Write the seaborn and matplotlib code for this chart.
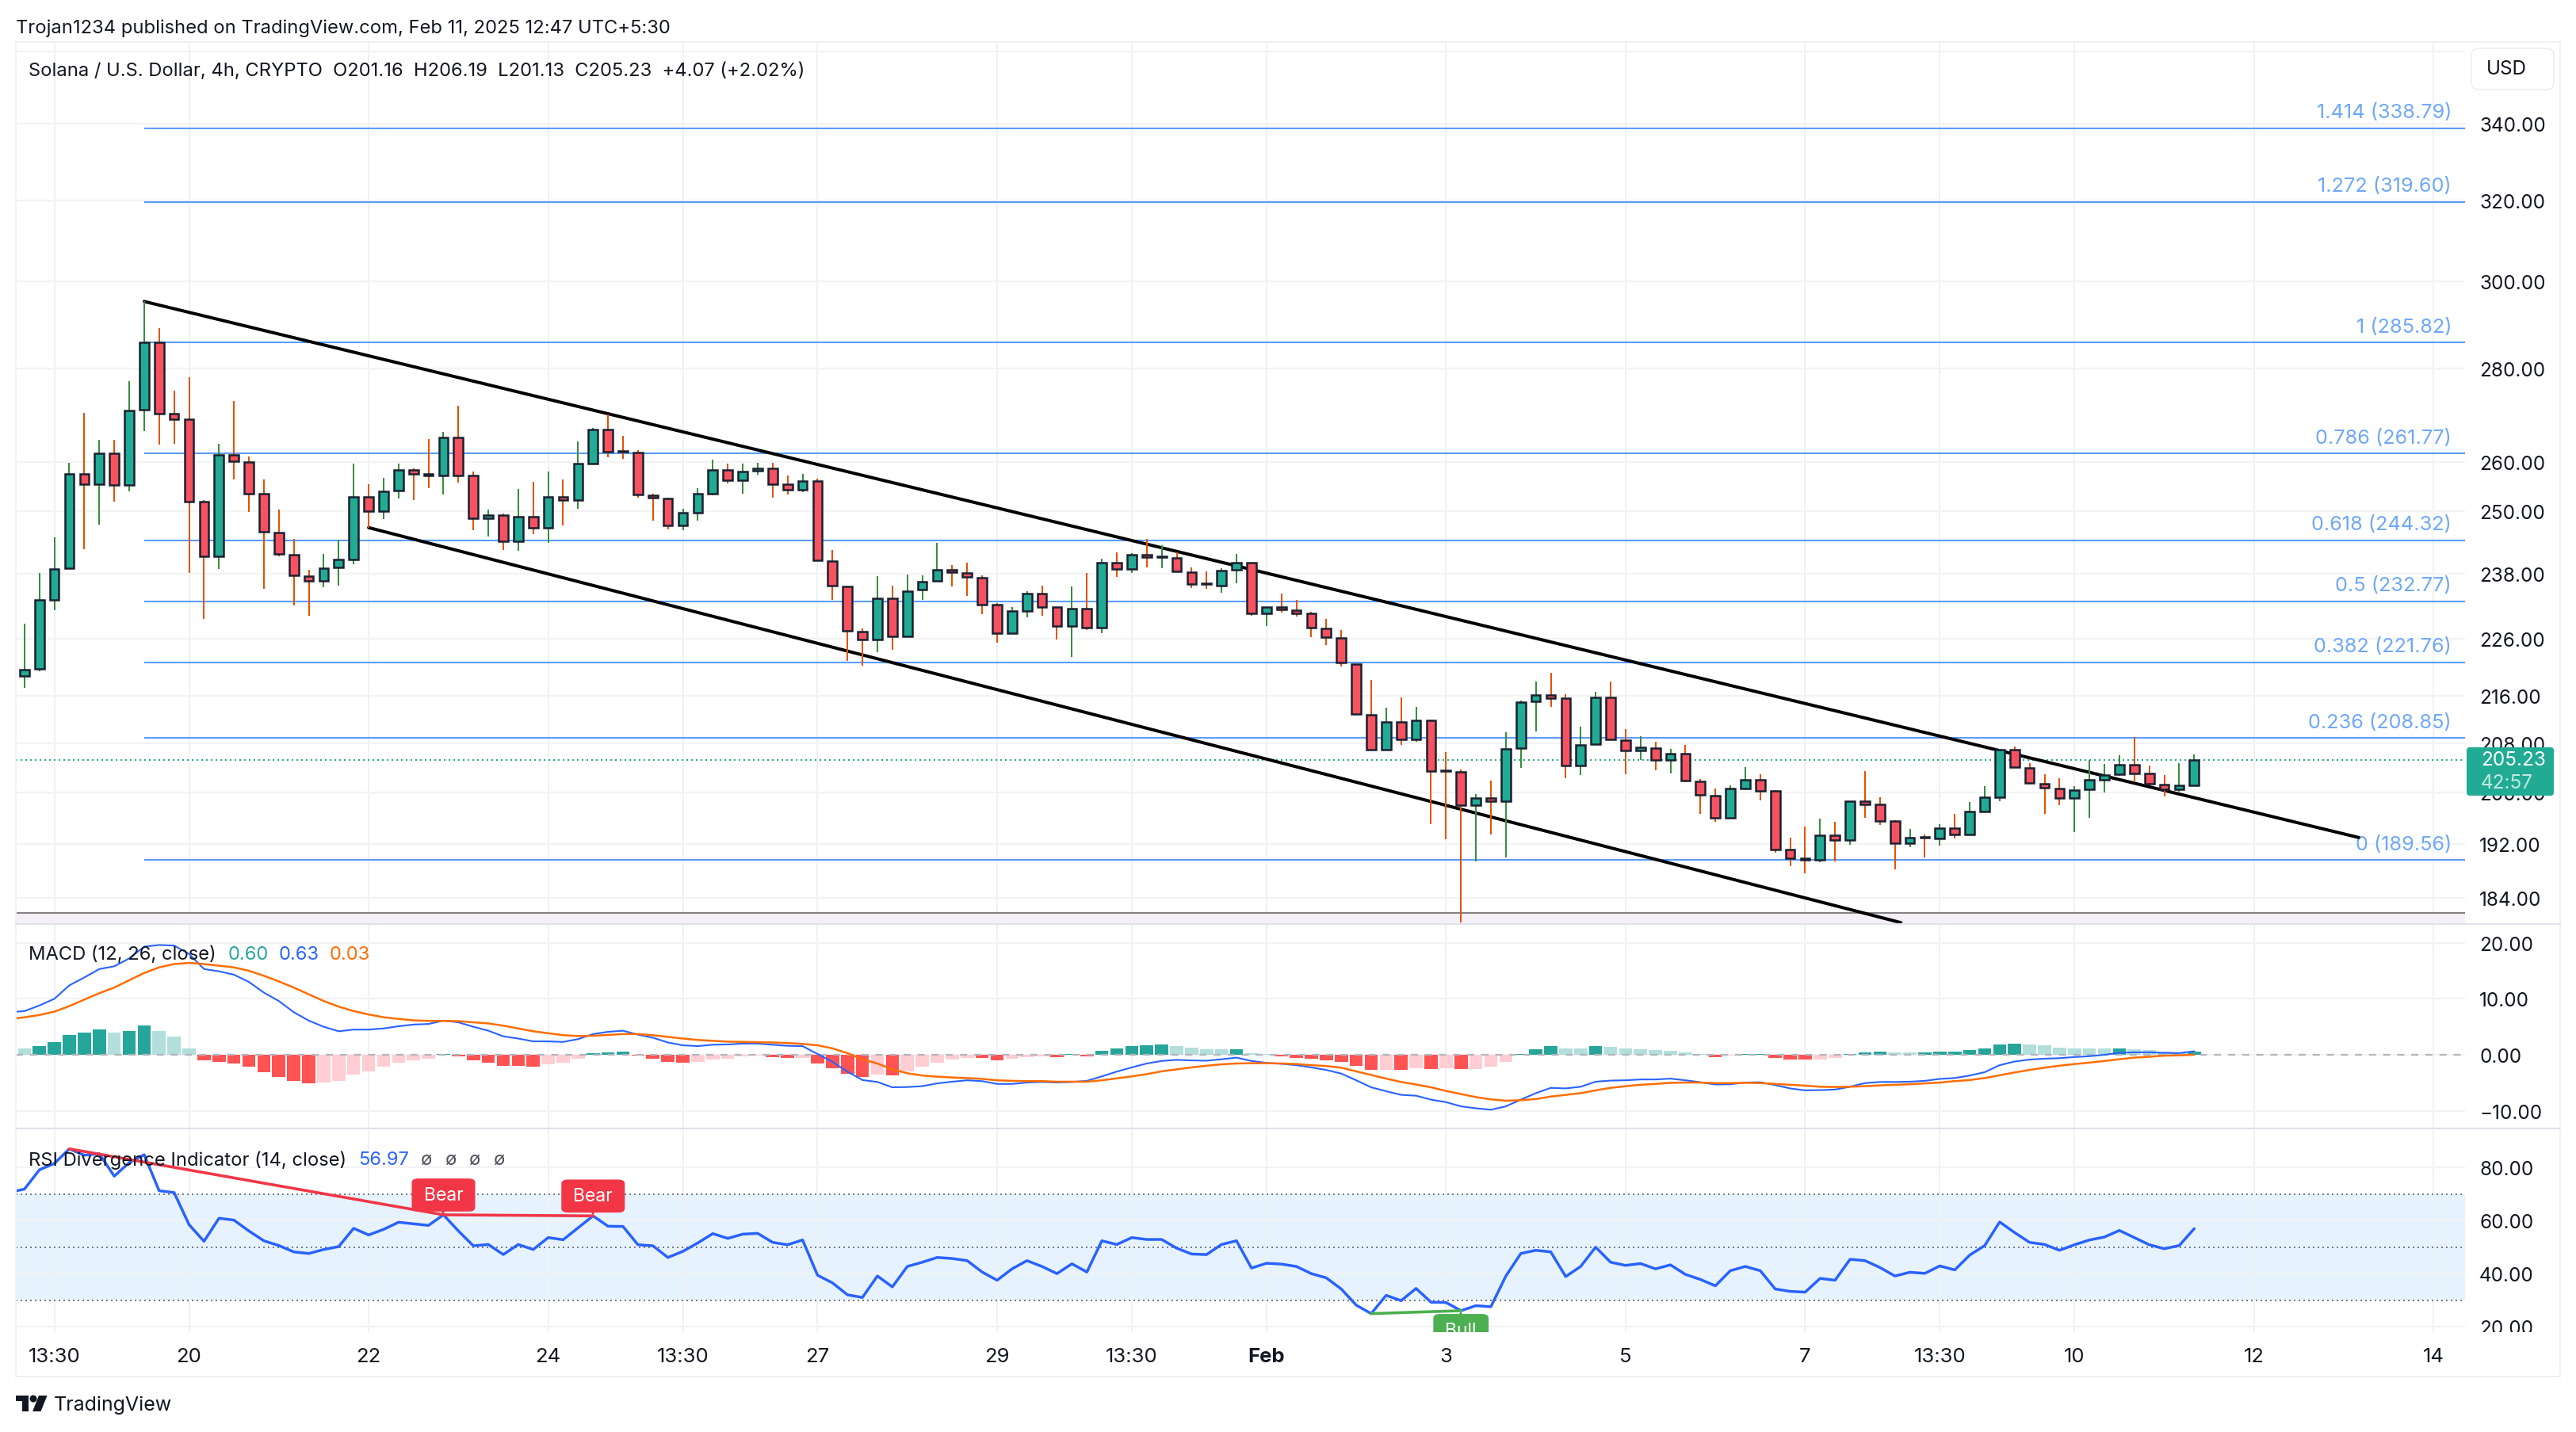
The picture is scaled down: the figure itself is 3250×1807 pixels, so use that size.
import numpy as np
import pandas as pd
import matplotlib.pyplot as plt
import seaborn as sns
from matplotlib.lines import Line2D
from matplotlib.patches import FancyBboxPatch, Rectangle, Circle, Polygon
from matplotlib.transforms import IdentityTransform

# bars are counted from the Jan 20 candle
bars = np.arange(-11, 135)

open_p = [
    219.4, 220.7, 233.1, 239.0, 257.6, 255.4, 261.8, 255.3, 271.0, 285.8,
    270.2, 268.9, 251.9, 241.3, 261.5, 260.0, 253.5, 245.9, 241.6, 237.5,
    236.6, 239.2, 240.6, 252.9, 250.0, 254.1, 258.3, 257.5, 257.3, 265.1,
    257.2, 248.7, 249.2, 244.2, 248.9, 246.7, 252.9, 252.2, 259.7, 266.7,
    262.3, 261.9, 253.2, 252.5, 247.2, 249.7, 253.6, 258.3, 256.3, 258.2,
    258.6, 255.4, 254.4, 256.1, 240.4, 235.6, 227.3, 225.8, 233.4, 226.4,
    234.9, 236.6, 238.7, 238.1, 237.2, 232.1, 227.0, 231.0, 234.2, 231.7,
    228.3, 231.4, 227.9, 240.1, 238.8, 241.6, 241.1, 241.0, 238.3, 236.1,
    235.7, 238.7, 240.1, 230.6, 231.7, 231.2, 230.5, 227.8, 226.1, 221.5,
    212.8, 206.9, 211.6, 208.6, 211.8, 203.6, 203.3, 198.0, 199.1, 198.6,
    207.2, 215.0, 216.1, 215.6, 204.4, 207.8, 215.7, 208.5, 206.8, 207.2,
    205.2, 206.3, 201.8, 199.5, 196.1, 200.7, 202.0, 200.3, 191.2, 189.9,
    189.6, 193.3, 192.6, 198.6, 198.1, 195.5, 192.1, 193.1, 192.9, 194.5,
    193.5, 197.0, 199.3, 206.9, 204.0, 201.4, 200.7, 199.1, 200.5, 202.0,
    202.9, 204.5, 203.1, 201.3, 200.5, 201.16,
]
high_p = [
    228.7, 238.1, 244.9, 259.9, 270.4, 264.6, 264.6, 277.2, 295.3, 289.1,
    275.2, 278.1, 252.2, 263.7, 272.8, 261.2, 256.4, 250.4, 244.6, 238.7,
    241.7, 244.4, 259.6, 255.5, 256.8, 259.6, 258.7, 264.7, 266.2, 271.9,
    258.1, 250.4, 249.6, 254.5, 256.0, 258.1, 256.4, 264.3, 267.1, 269.9,
    265.4, 262.4, 253.5, 252.7, 250.5, 254.6, 260.5, 259.6, 259.6, 259.8,
    259.8, 257.3, 257.5, 256.5, 242.5, 235.6, 227.8, 237.5, 235.7, 237.8,
    237.7, 243.8, 239.6, 240.0, 237.7, 232.5, 231.8, 234.7, 235.7, 231.8,
    235.6, 238.1, 240.8, 242.0, 241.8, 244.6, 243.4, 242.0, 239.2, 238.4,
    239.0, 241.7, 240.1, 231.8, 234.2, 233.0, 230.9, 229.5, 227.6, 221.5,
    218.7, 213.9, 215.7, 214.1, 211.9, 206.6, 203.7, 199.8, 201.9, 209.8,
    215.2, 218.4, 220.0, 216.2, 210.8, 216.7, 218.4, 210.4, 209.2, 208.2,
    207.0, 207.7, 202.2, 200.6, 201.2, 204.1, 202.9, 200.4, 193.0, 194.7,
    195.9, 195.4, 198.6, 203.4, 199.3, 195.7, 194.3, 193.5, 195.1, 196.6,
    198.5, 201.0, 207.0, 207.4, 204.7, 202.9, 202.3, 201.0, 205.3, 204.6,
    206.0, 209.0, 204.3, 202.8, 204.7, 206.19,
]
low_p = [
    217.3, 220.2, 231.2, 239.0, 242.6, 247.4, 252.0, 254.0, 266.4, 263.6,
    263.7, 238.1, 229.5, 238.9, 256.4, 249.9, 235.1, 241.3, 232.0, 230.2,
    235.4, 235.7, 239.7, 246.7, 248.5, 252.5, 252.2, 254.6, 253.4, 255.8,
    246.3, 245.0, 242.4, 242.3, 245.5, 243.8, 247.3, 250.5, 259.7, 260.9,
    260.6, 252.8, 248.2, 246.5, 246.3, 248.2, 253.2, 255.6, 253.5, 257.4,
    252.8, 253.4, 253.9, 240.5, 233.0, 222.0, 221.2, 223.6, 224.0, 226.4,
    233.1, 236.6, 235.6, 233.8, 230.4, 225.2, 226.8, 229.8, 230.2, 225.9,
    222.7, 227.6, 227.0, 237.3, 238.1, 239.2, 239.0, 238.4, 235.2, 235.1,
    234.3, 236.2, 230.2, 228.3, 230.7, 230.0, 226.3, 224.8, 221.1, 212.8,
    206.9, 206.8, 207.7, 208.3, 195.1, 192.7, 180.4, 189.4, 193.5, 190.0,
    203.9, 209.9, 214.1, 202.3, 202.8, 207.8, 208.6, 202.9, 205.3, 203.6,
    203.1, 201.7, 196.6, 195.4, 196.1, 200.4, 198.8, 190.7, 188.7, 187.6,
    189.3, 189.4, 191.9, 196.1, 194.9, 188.2, 191.5, 190.0, 191.8, 192.9,
    193.5, 197.0, 198.6, 204.1, 201.5, 196.7, 198.0, 193.8, 196.1, 200.0,
    202.7, 201.7, 201.1, 199.4, 200.2, 201.13,
]
close_p = [
    220.5, 233.0, 238.9, 257.6, 255.4, 261.8, 255.3, 270.9, 285.8, 270.2,
    269.0, 252.0, 241.3, 261.5, 260.1, 253.6, 246.0, 241.7, 237.6, 236.6,
    239.0, 240.6, 252.9, 250.0, 254.0, 258.3, 257.6, 257.3, 265.1, 257.3,
    248.7, 249.2, 244.2, 248.9, 246.7, 252.9, 252.2, 259.6, 266.7, 262.2,
    262.1, 253.3, 252.7, 247.2, 249.7, 253.5, 258.3, 256.3, 258.1, 258.7,
    255.5, 254.4, 256.1, 240.5, 235.7, 227.4, 225.8, 233.4, 226.4, 234.7,
    236.5, 238.7, 238.2, 237.3, 232.2, 227.0, 231.0, 234.2, 231.8, 228.3,
    231.4, 227.9, 240.1, 238.8, 241.6, 241.1, 241.2, 238.4, 236.0, 236.0,
    238.5, 240.1, 230.6, 231.7, 231.3, 230.6, 227.9, 226.3, 221.7, 212.9,
    206.9, 211.6, 208.6, 211.8, 203.5, 203.5, 198.0, 199.1, 198.6, 207.0,
    214.9, 216.1, 215.6, 204.4, 207.7, 215.7, 208.6, 206.8, 207.3, 205.2,
    206.3, 201.9, 199.6, 196.1, 200.7, 202.0, 200.3, 191.2, 189.9, 189.6,
    193.3, 192.6, 198.6, 198.1, 195.5, 192.1, 193.0, 193.0, 194.5, 193.5,
    197.0, 199.3, 206.9, 204.1, 201.5, 200.8, 199.1, 200.4, 202.0, 202.8,
    204.5, 203.1, 201.4, 200.5, 201.2, 205.23,
]

fib_levels = ["1.414", "1.272", "1", "0.786", "0.618", "0.5", "0.382", "0.236", "0"]
fib_prices = [338.79, 319.60, 285.82, 261.77, 244.32, 232.77, 221.76, 208.85, 189.56]
last_price = 205.23

# two channel lines, (bar, price) at each end
upper_bars = [-3, 145]
upper_prices = [295.3, 193.0]
lower_bars = [12, 114.4]
lower_prices = [246.8, 180.4]

hist = [
    1.15, 1.6, 2.2, 3.6, 4.0, 4.5, 3.9, 4.3, 5.2, 4.2,
    3.2, 1.2, -1.0, -1.3, -1.55, -2.1, -3.1, -4.0, -4.7, -5.1,
    -4.95, -4.6, -3.6, -3.0, -2.1, -1.4, -1.0, -0.7, 0.15, -0.3,
    -1.0, -1.4, -2.0, -2.02, -2.1, -1.7, -1.4, -0.7, 0.35, 0.45,
    0.6, -0.15, -0.7, -1.25, -1.4, -1.25, -0.85, -0.7, -0.3, -0.2,
    -0.45, -0.55, -0.54, -1.55, -2.4, -3.4, -4.0, -3.6, -3.7, -3.0,
    -2.1, -1.4, -0.85, -0.5, -0.55, -1.0, -0.7, -0.4, -0.3, -0.45,
    0.15, -0.3, 0.7, 1.15, 1.55, 1.7, 1.85, 1.55, 1.25, 1.02,
    0.98, 1.0, 0.3, 0.1, -0.3, -0.55, -0.7, -1.0, -1.25, -2.0,
    -2.7, -2.65, -2.7, -2.4, -2.5, -2.45, -2.5, -2.48, -2.1, -1.25,
    0.15, 1.0, 1.55, 1.15, 1.14, 1.55, 1.4, 1.15, 1.0, 0.85,
    0.7, 0.4, 0.1, -0.45, -0.2, 0.15, 0.16, -0.55, -0.8, -0.9,
    -0.85, -0.55, 0.15, 0.4, 0.6, 0.4, 0.39, 0.41, 0.6, 0.62,
    0.85, 1.15, 1.85, 2.0, 1.85, 1.7, 1.25, 1.15, 1.14, 1.13,
    1.15, 1.0, 0.85, 0.6, 0.4, 0.6,
]

# the lines start one bar earlier, they run off the left edge
line_bars = np.arange(-12, 135)
macd_line = [
    7.6, 7.8, 8.8, 10.0, 12.4, 13.8, 15.3, 15.8, 17.2, 19.3, 19.6,
    19.5, 18.0, 15.3, 14.9, 14.3, 13.0, 11.1, 9.6, 7.6, 6.1,
    5.0, 4.2, 4.5, 4.5, 4.7, 5.1, 5.4, 5.5, 6.1, 5.8,
    5.0, 4.3, 3.3, 2.9, 2.4, 2.4, 2.3, 2.8, 3.7, 4.1,
    4.3, 3.6, 3.05, 2.2, 1.7, 1.55, 1.8, 1.85, 2.0, 2.0,
    1.8, 1.6, 1.55, 0.15, -1.25, -3.0, -4.5, -4.85, -5.8, -5.75,
    -5.6, -5.1, -4.8, -4.55, -4.7, -5.2, -5.2, -4.95, -4.85, -4.95,
    -4.85, -4.65, -3.85, -3.0, -2.25, -1.55, -1.1, -0.9, -1.0, -1.05,
    -0.8, -0.5, -1.1, -1.45, -1.6, -1.85, -2.25, -2.7, -3.35, -4.55,
    -5.8, -6.5, -7.15, -7.3, -8.0, -8.45, -9.2, -9.55, -9.8, -9.2,
    -8.0, -6.85, -5.9, -6.0, -5.7, -4.8, -4.6, -4.55, -4.4, -4.4,
    -4.25, -4.55, -4.9, -5.3, -5.25, -4.95, -4.9, -5.4, -6.0, -6.35,
    -6.3, -6.2, -5.7, -5.05, -4.85, -4.85, -4.8, -4.65, -4.3, -4.15,
    -3.7, -3.1, -1.85, -1.2, -0.85, -0.7, -0.6, -0.4, -0.25, 0.0,
    0.35, 0.45, 0.45, 0.35, 0.3, 0.63,
]
signal_line = [
    6.35, 6.7, 7.1, 7.7, 8.7, 9.85, 11.0, 12.0, 13.3, 14.6, 15.6,
    16.2, 16.4, 16.2, 15.9, 15.6, 15.0, 14.1, 13.1, 12.0, 10.8,
    9.6, 8.6, 7.8, 7.2, 6.7, 6.4, 6.15, 6.05, 6.05, 6.0,
    5.8, 5.6, 5.2, 4.7, 4.2, 3.85, 3.5, 3.35, 3.4, 3.55,
    3.7, 3.7, 3.5, 3.2, 2.9, 2.65, 2.5, 2.35, 2.3, 2.25,
    2.2, 2.1, 1.95, 1.7, 1.15, 0.3, -0.8, -1.55, -2.6, -3.3,
    -3.7, -3.9, -4.05, -4.15, -4.3, -4.55, -4.65, -4.7, -4.7, -4.8,
    -4.8, -4.8, -4.55, -4.2, -3.85, -3.45, -2.95, -2.6, -2.25, -1.95,
    -1.7, -1.55, -1.5, -1.5, -1.55, -1.65, -1.85, -2.0, -2.3, -2.95,
    -3.6, -4.25, -4.85, -5.3, -5.8, -6.45, -7.0, -7.55, -7.95, -8.2,
    -8.1, -7.9, -7.45, -7.15, -6.85, -6.35, -5.9, -5.6, -5.35, -5.2,
    -5.0, -4.95, -4.95, -5.05, -5.05, -5.0, -5.05, -5.2, -5.35, -5.5,
    -5.7, -5.75, -5.7, -5.6, -5.45, -5.35, -5.25, -5.1, -4.95, -4.7,
    -4.5, -4.15, -3.65, -3.15, -2.7, -2.3, -1.95, -1.65, -1.4, -1.1,
    -0.8, -0.5, -0.35, -0.15, -0.1, 0.03,
]
rsi_line = [
    70.7, 71.9, 79.2, 81.6, 87.1, 84.7, 85.3, 76.8, 81.9, 84.9, 71.3,
    70.6, 58.5, 52.2, 60.9, 60.2, 56.1, 52.4, 50.6, 48.2, 47.6,
    49.1, 50.2, 57.1, 54.6, 56.7, 59.4, 58.8, 58.2, 62.2, 56.1,
    50.5, 51.0, 47.2, 51.0, 49.1, 53.6, 52.8, 57.3, 61.8, 57.9,
    57.8, 50.9, 50.5, 46.1, 48.4, 51.6, 55.1, 53.3, 54.9, 55.2,
    51.8, 50.9, 52.7, 39.4, 36.5, 32.0, 31.0, 39.1, 35.0, 42.7,
    44.3, 46.1, 45.7, 44.9, 40.6, 37.5, 41.8, 44.9, 42.7, 40.0,
    43.7, 40.6, 52.4, 51.0, 53.6, 52.9, 52.9, 49.6, 47.4, 47.2,
    51.0, 52.4, 42.1, 43.9, 43.6, 42.7, 40.0, 38.4, 34.2, 28.1,
    24.9, 31.8, 29.8, 34.4, 29.2, 29.1, 26.0, 27.9, 27.5, 39.1,
    47.6, 48.8, 48.2, 38.9, 42.7, 50.0, 44.3, 43.1, 43.8, 41.8,
    43.3, 39.7, 37.8, 35.4, 41.1, 42.7, 41.1, 34.2, 33.3, 33.0,
    38.2, 37.5, 45.4, 44.9, 42.3, 39.1, 40.5, 40.1, 42.9, 41.4,
    47.0, 50.6, 59.5, 55.5, 51.8, 51.0, 48.8, 50.9, 52.7, 53.8,
    56.3, 53.6, 50.9, 49.4, 50.6, 56.97,
]
bear_bars = [-8, 17, 27]
bull_bars = [79, 85]

x_tick_bars = [-9, 0, 12, 24, 33, 42, 54, 63, 72, 84, 96, 108, 117, 126, 138, 150]
x_tick_labels = ["13:30", "20", "22", "24", "13:30", "27", "29", "13:30", "Feb",
                 "3", "5", "7", "13:30", "10", "12", "14"]
price_ticks = [360, 340, 320, 300, 280, 260, 250, 238, 226, 216, 208, 200, 192, 184]
macd_ticks = [20, 10, 0, -10]
rsi_ticks = [80, 60, 40, 20]

W, H = 3250, 1808
UP, DOWN = "#22ab94", "#f7525f"
WICK_UP, WICK_DOWN = "#388e3c", "#e65100"
BORDER = "#1a2030"
BLUE, ORANGE = "#2962ff", "#ff6d00"
FIB = "#5b9cf6"
GRID = "#f2f3f4"
SEP = "#e0e3eb"
INK = "#131722"
BEAR, BULL = "#f23645", "#4caf50"

sns.set_theme(style="white")
plt.rcParams["font.family"] = ["Inter", "DejaVu Sans"]
plt.rcParams["text.color"] = INK

fig = plt.figure(figsize=(W / 100, H / 100), dpi=100, facecolor="white")


def pane(top, bottom):
    a = fig.add_axes([20 / W, 1 - bottom / H, 3090 / W, (bottom - top) / H])
    a.set_xlim(-11.575, 152.1)
    a.set_facecolor("white")
    sns.despine(ax=a, left=True, bottom=True)
    a.set_axisbelow(True)
    a.set_xticks(x_tick_bars)
    a.grid(True, axis="x", color="#f0f1f3", lw=1.44)
    a.grid(True, axis="y", color=GRID, lw=1.6)
    a.yaxis.tick_right()
    a.tick_params(axis="both", which="both", length=0, labelsize=17.5, pad=13, labelcolor=INK)
    a.set_xticklabels([])
    return a


def label(x, y, s, **kw):
    kw.setdefault("fontsize", 17.1)
    kw.setdefault("va", "center")
    fig.text(x / W, 1 - (y + 2) / H, s, **kw)


def box(x0, y0, x1, y1, color, rounding=6, z=5):
    # pixel box, measured from the top left of the figure
    fig.add_artist(FancyBboxPatch((x0, H - y1), x1 - x0, y1 - y0,
                                  boxstyle=f"round,pad=0,rounding_size={rounding}",
                                  fc=color, ec="none", transform=IdentityTransform(), zorder=z))


# price pane
ax = pane(54, 1167)
ax.set_yscale("log")
ax.set_ylim(180.2, 362.8)
ax.minorticks_off()
ax.set_yticks(price_ticks)
ax.set_yticklabels(["" if p == 360 else f"{p:.2f}" for p in price_ticks])
ax.minorticks_off()

ax.axhspan(180.2, 181.8, color="#f5eff8", lw=0, zorder=1)
ax.axhline(181.8, color="#838383", lw=1.5, zorder=1.5)

for lev, p in zip(fib_levels, fib_prices):
    ax.plot([-3, 152.1], [p, p], color=FIB, lw=1.5, zorder=2, solid_capstyle="butt")
    ax.annotate(f"{lev} ({p:.2f})", xy=(151.2, p), xytext=(0, 20), textcoords="offset pixels",
                ha="right", va="center", fontsize=18.2, color="#6ea8f8", zorder=2)

ax.axhline(last_price, color=UP, lw=1.44, ls=(0, (1, 2)), zorder=2.5)
ax.plot(upper_bars, upper_prices, color="black", lw=2.9, zorder=3)
ax.plot(lower_bars, lower_prices, color="black", lw=2.9, zorder=3)

candles = pd.DataFrame({"open": open_p, "high": high_p, "low": low_p, "close": close_p}, index=bars)
rising = candles["close"] >= candles["open"]
ax.vlines(bars, candles["low"], candles["high"],
          colors=[WICK_UP if r else WICK_DOWN for r in rising], lw=1.44, zorder=3.5)
ax.bar(bars, candles["close"] - candles["open"], bottom=candles["open"], width=0.62,
       color=[UP if r else DOWN for r in rising], edgecolor=BORDER, linewidth=1.8, zorder=4)

# macd pane
ax2 = pane(1167, 1425)
ax2.set_ylim(-13.15, 23.34)
ax2.set_yticks(macd_ticks)
ax2.set_yticklabels(["20.00", "10.00", "0.00", "\u221210.00"])
ax2.axhline(0, color="#b2b5be", lw=1.6, ls=(0, (4, 4)), zorder=3)


def hist_color(i):
    # a bar is pale when it moves back toward zero
    h = hist[i]
    prev = hist[i - 1] if i > 0 else h
    if h >= 0:
        return "#26a69a" if i > 0 and h > prev else "#b2dfdb"
    return "#ff5252" if h < prev else "#ffcdd2"


ax2.bar(bars, hist, width=0.88, color=[hist_color(i) for i in range(len(hist))], lw=0, zorder=2)
sns.lineplot(x=line_bars, y=macd_line, ax=ax2, color=BLUE, lw=1.5, zorder=4, estimator=None)
sns.lineplot(x=line_bars, y=signal_line, ax=ax2, color=ORANGE, lw=1.8, zorder=4, estimator=None)
ax2.set_xlabel("")
ax2.set_ylabel("")

# rsi pane
ax3 = pane(1425, 1682)
ax3.set_ylim(17.9, 94.8)
ax3.set_yticks(rsi_ticks)
ax3.set_yticklabels([f"{t:.2f}" for t in rsi_ticks])
ax3.axhspan(30, 70, color="#e6f3fe", lw=0, zorder=0.5)
for lvl in [70, 50, 30]:
    ax3.axhline(lvl, color="#787b86", lw=1.44, ls=(0, (1, 2)), zorder=1.5)
sns.lineplot(x=line_bars, y=rsi_line, ax=ax3, color=BLUE, lw=2.5, zorder=3, estimator=None)

rsi = pd.Series(rsi_line, index=line_bars)
ax3.plot(bear_bars, rsi[bear_bars], color=BEAR, lw=2.6, zorder=4)
ax3.plot(bull_bars, rsi[bull_bars], color=BULL, lw=2.6, zorder=4)
tag_box = dict(boxstyle="round,pad=0.66,rounding_size=0.35", ec="none", mutation_aspect=0.65)
for b in bear_bars[1:]:
    ax3.annotate("Bear", xy=(b, rsi[b]), xytext=(0, 25), textcoords="offset pixels",
                 ha="center", va="center", color="white", fontsize=16.5, zorder=5,
                 bbox=dict(tag_box, fc=BEAR))
    ax3.plot(b, rsi[b] + 1.5, marker="v", ms=7, color=BEAR, mew=0, zorder=5)
b = bull_bars[1]
ax3.annotate("Bull", xy=(b, rsi[b]), xytext=(0, -25), textcoords="offset pixels",
             ha="center", va="center", color="white", fontsize=16.5, zorder=5, clip_on=True,
             bbox=dict(tag_box, fc=BULL))
ax3.plot(b, rsi[b] - 1.5, marker="^", ms=7, color=BULL, mew=0, zorder=5)
ax3.set_xlabel("")
ax3.set_ylabel("")
ax3.set_xticklabels(x_tick_labels)
ax3.tick_params(axis="x", labelsize=18.5, pad=14)
ax3.get_xticklabels()[x_tick_labels.index("Feb")].set_fontweight("bold")

# frame and separators
fig.add_artist(Rectangle((20, H - 1738), 3210, 1684, fc="none", ec="#f0f1f3", lw=1.5,
                         transform=IdentityTransform(), zorder=0.5))
for y in [1167, 1425]:
    fig.add_artist(Line2D([20, 3230], [H - y, H - y], color=SEP, lw=1.6,
                          transform=IdentityTransform(), zorder=2))

# last price flag, drawn over the scale labels
box(3112, 944, 3222, 1005, UP, rounding=4)
fig.text(3130 / W, 1 - 960 / H, f"{last_price:.2f}", color="white", fontsize=17.5, va="center", zorder=6)
fig.text(3130 / W, 1 - 989 / H, "42:57", color="#c4e8e1", fontsize=17.5, va="center", zorder=6)

# scale label cut off by the time axis
fig.add_artist(Rectangle((3112, H - 1700), 116, 18, fc="white", ec="none",
                         transform=IdentityTransform(), zorder=5))

# currency button
fig.add_artist(FancyBboxPatch((3118, H - 114), 104, 52, boxstyle="round,pad=0,rounding_size=9",
                              fc="white", ec="#eff0f2", lw=1.3, transform=IdentityTransform(), zorder=5))
label(3137, 85, "USD", zorder=6, fontsize=17.5)

label(20, 34, "Trojan1234 published on TradingView.com, Feb 11, 2025 12:47 UTC+5:30")
label(36, 88, "Solana / U.S. Dollar, 4h, CRYPTO  O201.16  H206.19  L201.13  C205.23  +4.07 (+2.02%)")

label(36, 1203, "MACD (12, 26, close)")
label(288, 1203, "0.60", color="#26a69a")
label(352, 1203, "0.63", color=BLUE)
label(416, 1203, "0.03", color=ORANGE)

label(36, 1462, "RSI Divergence Indicator (14, close)")
label(452, 1462, "56.97", color=BLUE)
for x in [538, 569, 599, 630]:
    label(x, 1462, "\u00f8", ha="center", color="#50535e")

# logo and name in the footer
for patch in [
    Polygon([(20, H - 1762), (36, H - 1762), (36, H - 1782), (27.5, H - 1782), (27.5, H - 1769), (20, H - 1769)],
            fc=INK, ec="none"),
    Circle((42, H - 1766), 4.5, fc=INK, ec="none"),
    Polygon([(49, H - 1762), (59.5, H - 1762), (51.5, H - 1782), (41, H - 1782)], fc=INK, ec="none"),
]:
    patch.set_transform(IdentityTransform())
    fig.add_artist(patch)
label(68, 1771, "TradingView", fontsize=18)

plt.savefig("out.png", dpi=100)
